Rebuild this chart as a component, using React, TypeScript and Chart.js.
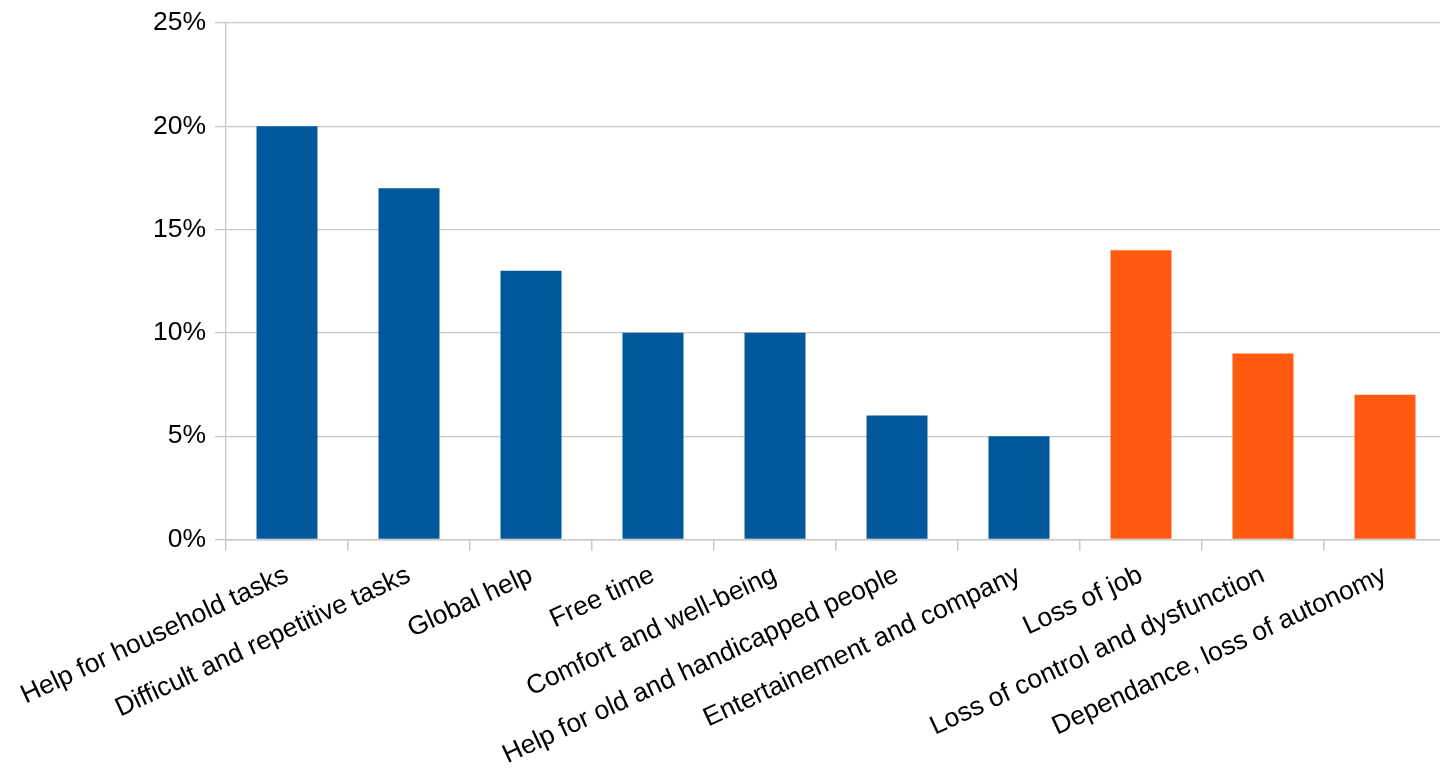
import React, { useEffect, useRef } from "react";
import { Chart, registerables } from "chart.js";

Chart.register(...registerables);

const categories = [
  "Help for household tasks",
  "Difficult and repetitive tasks",
  "Global help",
  "Free time",
  "Comfort and well-being",
  "Help for old and handicapped people",
  "Entertainement and company",
  "Loss of job",
  "Loss of control and dysfunction",
  "Dependance, loss of autonomy",
];
const values = [20, 17, 13, 10, 10, 6, 5, 14, 9, 7];
const isRisk = [false, false, false, false, false, false, false, true, true, true];
const yTicks = [0, 5, 10, 15, 20, 25];

const BLUE = "#00589a";
const ORANGE = "#ff5a10";
const GRID = "#c8c8c8";
const FONT = "'Liberation Sans', Arial, sans-serif";

export default function App() {
  const ref = useRef<HTMLCanvasElement | null>(null);

  useEffect(() => {
    document.body.style.margin = "0";
    document.body.style.overflow = "hidden";
    const ctx = ref.current!;
    const chart = new Chart(ctx, {
      type: "bar",
      data: {
        labels: categories,
        datasets: [
          {
            data: values,
            backgroundColor: isRisk.map((r) => (r ? ORANGE : BLUE)),
            barPercentage: 0.5,
            categoryPercentage: 1,
          },
        ],
      },
      options: {
        animation: false,
        responsive: false,
        devicePixelRatio: 1,
        layout: { padding: { top: 18, left: 0, right: 0, bottom: 0 } },
        plugins: { legend: { display: false }, tooltip: { enabled: false } },
        scales: {
          x: {
            offset: true,
            grid: {
              offset: true,
              drawOnChartArea: false,
              drawTicks: true,
              tickLength: 11,
              color: GRID,
              lineWidth: 1.5,
            },
            border: { display: true, color: GRID, width: 1.5 },
            ticks: {
              color: "#000",
              font: { family: FONT, size: 26.5 },
              minRotation: 25,
              maxRotation: 25,
              autoSkip: false,
              padding: 9,
            },
            afterFit: (s: any) => {
              s.height = 228.5;
            },
          },
          y: {
            min: 0,
            max: 25,
            afterBuildTicks: (s: any) => {
              s.ticks = yTicks.map((v) => ({ value: v }));
            },
            grid: {
              color: GRID,
              lineWidth: 1.3,
              tickLength: 11,
              drawTicks: true,
            },
            border: { display: true, color: GRID, width: 1.3 },
            ticks: {
              color: "#000",
              font: { family: FONT, size: 26.5 },
              padding: 9,
              callback: (v: any) => v + "%",
            },
            afterFit: (s: any) => {
              s.width = 226;
            },
          },
        },
      },
    });
    return () => chart.destroy();
  }, []);

  return (
    <div style={{ width: 1440, height: 768, overflow: "hidden", position: "relative", background: "#fff" }}>
      <canvas
        ref={ref}
        width={1446}
        height={770}
        style={{ display: "block", width: 1446, height: 770, marginTop: -2 }}
      />
    </div>
  );
}
